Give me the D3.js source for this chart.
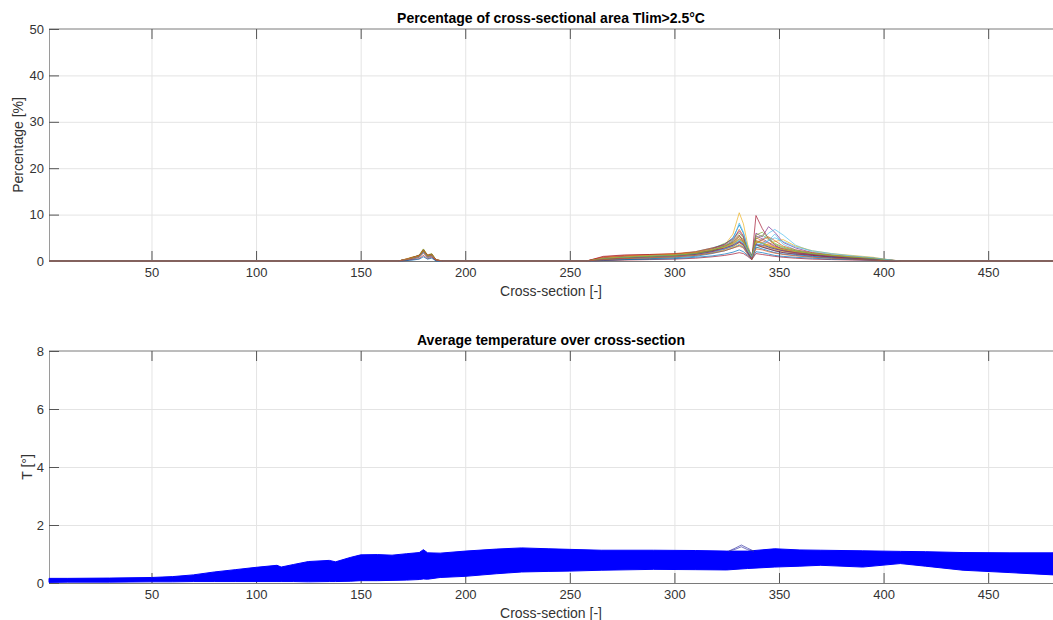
<!DOCTYPE html>
<html>
<head>
<meta charset="utf-8">
<script src="https://cdn.jsdelivr.net/npm/d3@7"></script>
<style>
  body { margin: 0; background: #fff; }
  svg { display: block; font-family: "Liberation Sans", Arial, sans-serif; }
  .tick text { fill: #333; font-size: 13px; }
  .grid line { stroke: #e4e4e4; }
  .grid path { display: none; }
</style>
</head>
<body>
<div id="chart"></div>
<script>
// ---- data ----
var xTicks = [50, 100, 150, 200, 250, 300, 350, 400, 450];
var pctTicks = [0, 10, 20, 30, 40, 50];
var tTicks = [0, 2, 4, 6, 8];

// cross-section positions where the percentage runs were read
var pctX = [1, 168, 172, 175, 178, 180, 182, 184, 186, 189, 258, 266, 276, 288, 300, 310, 318, 324, 328, 331,
            333, 335, 337, 339, 342, 345, 348, 352, 358, 366, 375, 385, 395, 402, 408, 481];

// one row per run (percentage of area above Tlim)
var pctRuns = [
  [0,0,0.4,0.8,1.2,2.4,1.0,1.4,0.2,0,0,0.6,0.9,1.1,1.4,2.0,2.8,3.6,5.0,7.8,6.0,3.0,1.0,4.2,3.8,3.0,2.6,2.2,1.6,1.2,0.8,0.5,0.3,0.1,0,0],
  [0,0,0.3,0.7,1.0,2.2,1.1,1.5,0.3,0,0,0.4,0.7,0.9,1.2,1.6,2.4,3.2,4.0,5.2,4.6,2.4,0.8,5.0,4.4,3.8,3.0,2.6,2.0,1.6,1.2,0.9,0.6,0.2,0,0],
  [0,0,0.5,0.9,1.1,2.5,1.2,1.3,0.2,0,0,0.8,1.1,1.3,1.5,1.9,2.6,3.4,5.8,10.4,8.0,3.6,0.5,3.6,3.2,2.8,2.4,2.0,1.8,1.4,1.0,0.7,0.4,0.1,0,0],
  [0,0,0.2,0.6,0.9,2.0,0.9,1.2,0.1,0,0,0.3,0.5,0.8,1.0,1.5,2.2,3.0,3.8,4.8,4.2,2.8,1.2,6.0,5.2,7.4,6.2,4.0,2.8,1.8,1.2,0.8,0.5,0.2,0,0],
  [0,0,0.4,0.8,1.3,2.6,1.3,1.6,0.3,0,0,0.5,0.8,1.0,1.3,1.8,2.6,3.8,4.6,6.0,5.0,2.6,0.6,4.8,5.6,4.6,3.6,2.8,2.2,1.6,1.1,0.7,0.4,0.1,0,0],
  [0,0,0.3,0.6,1.0,2.1,1.0,1.3,0.2,0,0,0.2,0.4,0.6,0.9,1.3,2.0,2.8,3.4,4.4,3.8,2.2,0.9,4.0,4.6,6.0,6.8,5.6,3.4,2.0,1.4,1.0,0.6,0.2,0,0],
  [0,0,0.3,0.7,1.1,2.3,1.1,1.4,0.2,0,0,0.7,1.0,1.2,1.4,1.7,2.4,3.2,4.2,5.6,4.0,1.8,0.4,9.8,7.0,4.8,3.4,2.4,1.8,1.3,0.9,0.6,0.3,0.1,0,0],
  [0,0,0.2,0.5,0.9,1.9,0.8,1.1,0.1,0,0,0.3,0.6,0.9,1.1,1.4,2.0,2.6,3.2,4.0,3.4,1.8,0.6,3.4,3.0,2.6,2.2,1.8,1.4,1.0,0.7,0.5,0.3,0.1,0,0],
  [0,0,0.4,0.8,1.2,2.4,1.2,1.5,0.3,0,0,0.9,1.2,1.4,1.6,2.0,2.8,3.4,4.4,6.8,5.4,2.0,0.3,4.4,4.0,3.4,2.8,2.2,1.8,1.4,1.1,0.9,0.6,0.3,0,0],
  [0,0,0.3,0.6,1.0,2.2,1.0,1.3,0.2,0,0,0.2,0.3,0.5,0.8,1.2,1.8,2.4,3.0,3.6,3.2,2.0,1.0,2.8,3.2,3.6,4.2,4.6,3.2,2.2,1.6,1.2,0.8,0.3,0,0],
  [0,0,0.4,0.7,1.1,2.3,1.1,1.4,0.2,0,0,0.6,0.9,1.0,1.3,1.8,2.6,3.6,4.8,6.4,5.2,2.4,0.7,5.4,4.8,4.0,3.2,2.6,2.0,1.5,1.1,0.8,0.5,0.2,0,0],
  [0,0,0.3,0.7,1.0,2.1,1.0,1.2,0.2,0,0,0.4,0.7,1.0,1.2,1.6,2.2,3.0,3.6,4.6,4.0,2.2,0.8,4.2,3.8,3.2,2.8,2.4,1.9,1.5,1.0,0.7,0.4,0.1,0,0],
  [0,0,0.2,0.5,0.8,1.8,0.8,1.0,0.1,0,0,0.5,0.8,1.1,1.3,1.7,2.4,3.2,4.4,8.2,6.2,2.8,0.9,3.8,3.4,4.4,5.8,3.6,2.4,1.6,1.2,0.9,0.5,0.2,0,0],
  [0,0,0.4,0.8,1.2,2.4,1.2,1.4,0.2,0,0,1.0,1.3,1.4,1.5,1.8,2.2,2.8,3.4,4.2,3.6,2.0,0.8,3.6,3.0,2.6,2.2,1.8,1.5,1.2,0.9,0.6,0.4,0.1,0,0],
  [0,0,0.3,0.6,0.9,2.0,0.9,1.2,0.1,0,0,0.1,0.3,0.5,0.7,1.0,1.6,2.2,2.8,3.4,3.0,1.6,0.5,3.0,2.6,2.2,1.8,1.5,1.2,0.9,0.6,0.4,0.2,0,0,0],
  [0,0,0.2,0.5,0.8,1.7,0.8,1.0,0.1,0,0,0.3,0.5,0.7,1.0,1.3,1.9,2.6,3.2,4.0,3.4,2.0,0.7,3.8,4.6,5.2,4.4,3.2,2.4,1.8,1.3,0.9,0.6,0.2,0,0],
  [0,0,0.4,0.7,1.1,2.2,1.1,1.3,0.2,0,0,0.6,0.9,1.2,1.4,1.8,2.5,3.0,3.8,4.8,4.2,2.4,0.8,4.2,3.8,3.4,3.0,2.5,2.0,1.6,1.2,0.9,0.6,0.2,0,0],
  [0,0,0.3,0.6,1.0,2.0,1.0,1.2,0.2,0,0,0.4,0.6,0.8,1.0,1.4,2.0,2.6,3.4,4.2,3.6,2.0,0.6,3.6,3.4,3.0,2.6,2.2,1.8,1.4,1.0,0.7,0.4,0.1,0,0],
  [0,0,0.3,0.7,1.1,2.3,1.1,1.4,0.2,0,0,0.5,0.8,1.0,1.2,1.6,2.3,3.2,4.0,5.4,4.6,2.6,1.0,5.6,6.2,5.0,3.8,3.0,2.2,1.6,1.2,0.8,0.5,0.2,0,0],
  [0,0,0.2,0.5,0.9,1.9,0.9,1.1,0.1,0,0,0.2,0.4,0.7,0.9,1.2,1.8,2.6,3.2,4.4,3.8,2.2,0.8,3.4,3.8,4.4,5.0,4.2,3.0,2.2,1.6,1.1,0.7,0.3,0,0],
  [0,0,0.1,0.3,0.5,1.2,0.5,0.8,0.1,0,0,0.1,0.2,0.3,0.4,0.6,0.9,1.2,1.5,1.8,1.6,1.0,0.3,1.6,1.4,1.2,1.0,0.8,0.6,0.4,0.3,0.2,0.1,0,0,0],
  [0,0,0.1,0.2,0.4,0.9,0.4,0.6,0,0,0,0.2,0.3,0.4,0.5,0.8,1.1,1.5,1.9,2.4,2.0,1.2,0.4,2.0,1.8,1.5,1.2,1.0,0.8,0.6,0.4,0.3,0.2,0,0,0],
  [0,0,0.3,0.6,1.0,2.1,1.0,1.2,0.2,0,0,0.3,0.5,0.7,0.9,1.2,1.7,2.2,2.8,3.2,2.8,1.4,0.4,2.6,2.4,2.0,1.7,1.4,1.1,0.8,0.6,0.4,0.2,0,0,0]
];

// MATLAB default colour order
var runColors = ["#0072BD", "#D95319", "#EDB120", "#7E2F8E", "#77AC30", "#4DBEEE", "#A2142F"];

// envelope of the average-temperature runs
var tX =     [1, 10, 30, 50, 60, 70, 80, 90, 100, 110, 112, 118, 125, 135, 138, 145, 150, 158, 165, 172, 178, 180, 182, 188,
              200, 215, 227, 240, 250, 265, 290, 310, 325, 335, 348, 360, 370, 390, 408, 420, 438, 460, 481];
var tUpper = [0.16, 0.16, 0.17, 0.19, 0.22, 0.28, 0.38, 0.46, 0.54, 0.61, 0.55, 0.64, 0.74, 0.78, 0.73, 0.88, 0.97, 0.98, 0.96, 1.01, 1.05, 1.15, 1.04, 1.03,
              1.10, 1.17, 1.21, 1.18, 1.16, 1.13, 1.13, 1.12, 1.10, 1.10, 1.18, 1.14, 1.13, 1.11, 1.09, 1.08, 1.05, 1.04, 1.04];
var tLower = [0.02, 0.03, 0.03, 0.04, 0.04, 0.05, 0.05, 0.05, 0.05, 0.05, 0.05, 0.05, 0.04, 0.05, 0.05, 0.06, 0.08, 0.08, 0.09, 0.10, 0.12, 0.14, 0.13, 0.19,
              0.23, 0.32, 0.38, 0.40, 0.41, 0.44, 0.47, 0.46, 0.45, 0.50, 0.55, 0.58, 0.61, 0.55, 0.67, 0.58, 0.44, 0.36, 0.28];
// the two runs poking out near section 331
var spikeX = [326, 329, 332, 335, 338];
var spikeA = [1.10, 1.20, 1.31, 1.20, 1.10];
var spikeB = [1.10, 1.16, 1.25, 1.15, 1.10];

// ---- layout ----
var W = 1053, H = 620;
var left = 49, right = 1053;
var topPanel = {top: 29, bottom: 261};
var botPanel = {top: 351, bottom: 583};

var svg = d3.select("#chart").append("svg")
    .attr("width", W).attr("height", H);

var x = d3.scaleLinear().domain([1, 481]).range([left, right]);

function drawAxes(g, y, yTicks, panel, title, ylabel, ylabelX) {
  var h = panel.bottom - panel.top;
  // grid
  g.append("g").attr("class", "grid")
    .attr("transform", `translate(0,${panel.bottom})`)
    .call(d3.axisBottom(x).tickValues(xTicks).tickSize(-h).tickFormat(""));
  g.append("g").attr("class", "grid")
    .attr("transform", `translate(${left},0)`)
    .call(d3.axisLeft(y).tickValues(yTicks.slice(1, -1)).tickSize(-(right - left)).tickFormat(""));

  // box lines
  g.append("line").attr("x1", left).attr("x2", right).attr("y1", panel.top).attr("y2", panel.top)
    .attr("stroke", "#7a7a7a");

  var xb = g.append("g").attr("transform", `translate(0,${panel.bottom})`)
    .call(d3.axisBottom(x).tickValues(xTicks).tickSize(-10).tickSizeOuter(0).tickPadding(7));
  var xt = g.append("g").attr("transform", `translate(0,${panel.top})`)
    .call(d3.axisTop(x).tickValues(xTicks).tickSize(-10).tickSizeOuter(0).tickFormat(""));
  var yl = g.append("g").attr("transform", `translate(${left},0)`)
    .call(d3.axisLeft(y).tickValues(yTicks).tickSize(-10).tickSizeOuter(0).tickPadding(5));
  [xb, xt, yl].forEach(function(a) {
    a.select(".domain").attr("stroke", "#7a7a7a");
    a.selectAll(".tick line").attr("stroke", "#555");
  });
  xt.select(".domain").remove();
  yl.select(".domain").attr("stroke", "#9a9a9a");

  g.append("text")
    .attr("x", (left + right) / 2).attr("y", panel.top - 6)
    .attr("text-anchor", "middle")
    .attr("font-size", 14).attr("font-weight", "bold").attr("fill", "#000")
    .text(title);
  g.append("text")
    .attr("x", (left + right) / 2).attr("y", panel.bottom + 35)
    .attr("text-anchor", "middle")
    .attr("font-size", 14).attr("fill", "#333")
    .text("Cross-section [-]");
  g.append("text")
    .attr("transform", `translate(${ylabelX},${(panel.top + panel.bottom) / 2}) rotate(-90)`)
    .attr("text-anchor", "middle")
    .attr("font-size", 14).attr("fill", "#333")
    .text(ylabel);
}

// ---- top panel: percentage of area ----
var yPct = d3.scaleLinear().domain([0, 50]).range([topPanel.bottom, topPanel.top]);
var gTop = svg.append("g");
drawAxes(gTop, yPct, pctTicks, topPanel, "Percentage of cross-sectional area Tlim>2.5°C", "Percentage [%]", 23);

var pctLine = d3.line()
    .x(function(d, i) { return x(pctX[i]); })
    .y(function(d) { return yPct(d); });

gTop.append("g").selectAll("path")
  .data(pctRuns)
  .enter().append("path")
    .attr("d", pctLine)
    .attr("fill", "none")
    .attr("stroke", function(d, i) { return runColors[i % runColors.length]; })
    .attr("stroke-width", 0.7);

// ---- bottom panel: average temperature ----
var yT = d3.scaleLinear().domain([0, 8]).range([botPanel.bottom, botPanel.top]);
var gBot = svg.append("g");
drawAxes(gBot, yT, tTicks, botPanel, "Average temperature over cross-section", "T [°]", 32);

var band = d3.area()
    .x(function(d, i) { return x(tX[i]); })
    .y0(function(d, i) { return yT(tLower[i]); })
    .y1(function(d) { return yT(d); });

gBot.append("path")
  .datum(tUpper)
  .attr("d", band)
  .attr("fill", "#0000ff")
  .attr("stroke", "#0000ff")
  .attr("stroke-width", 1);

var spikeLine = d3.line()
    .x(function(d, i) { return x(spikeX[i]); })
    .y(function(d) { return yT(d); });
gBot.append("g").selectAll("path")
  .data([spikeA, spikeB])
  .enter().append("path")
    .attr("d", spikeLine)
    .attr("fill", "none")
    .attr("stroke", "#3a3aa8")
    .attr("stroke-width", 0.7);
</script>
</body>
</html>
